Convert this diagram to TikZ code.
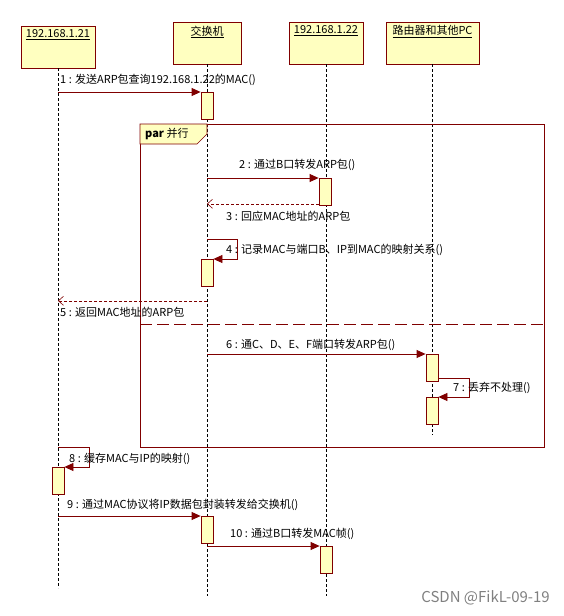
\documentclass[tikz,border=0pt]{standalone}
\usepackage{fontspec}
\setmainfont{Noto Sans CJK SC}
\usepackage{xcolor}
\usetikzlibrary{arrows.meta,positioning}

\definecolor{dred}{HTML}{800000}
\definecolor{yfill}{HTML}{FFFFC0}

\tikzset{
  head/.style={draw=dred, fill=yfill, line width=1pt, minimum height=42, inner sep=0},
  headtxt/.style={anchor=north, inner sep=0, yshift=-4},
  act/.style={draw=dred, fill=yfill, line width=0.8pt, minimum width=12, minimum height=27, anchor=north, inner sep=0},
  life/.style={dash pattern=on 3pt off 2pt, line width=0.7pt},
  msg/.style={dred, line width=0.8pt, -{Triangle[length=9pt,width=8pt]}},
  ret/.style={dred, line width=0.6pt, dash pattern=on 3pt off 2pt, -{Straight Barb[length=5pt,width=9pt]}},
  lbl/.style={anchor=west, inner sep=0}
}

\begin{document}
\begin{tikzpicture}[x=1pt, y=-1pt, font=\fontsize{11}{13}\selectfont]
\useasboundingbox (0,0) rectangle (564,616);

% Heads
\node[head, minimum width=74] (h1) at (58,47) {};
\node[headtxt] at (h1.north) {\underline{192.168.1.21}};
\node[head, minimum width=68] (h2) at (207,43) {};
\node[headtxt] at (h2.north) {\underline{交换机}};
\node[head, minimum width=74] (h3) at (326,43) {};
\node[headtxt] at (h3.north) {\underline{192.168.1.22}};
\node[head, minimum width=93] (h4) at (432.5,43) {};
\node[headtxt] at (h4.north) {\underline{路由器和其他PC}};

% Lifelines
\coordinate (l1) at (58,68);
\coordinate (l2) at (207,64);
\coordinate (l3) at (326,64);
\coordinate (l4) at (432,64);
\draw[life] (l1) -- (58,588);
\draw[life] (l2) -- (207,596);
\draw[life] (l3) -- (326,596);
\draw[life] (l4) -- (432,435);

% par frame
\draw[dred, line width=0.8pt] (140,124) rectangle (544,447);
\draw[dred, fill=yfill, line width=0.6pt] (140,124) -- (207,124) -- (207,134) -- (197,144) -- (140,144) -- cycle;
\node[lbl] (par) at (145,134) {\textbf{par} 并行};
\draw[dred, line width=0.8pt, dash pattern=on 12pt off 5pt] (140,324) -- (544,324);

% Activations
\node[act] (a1) at (207,92) {};
\node[act] (a2) at (325,178) {};
\node[act] (a3) at (207,259) {};
\node[act] (a4) at (432,354) {};
\node[act] (a5) at (432,397) {};
\node[act] (a6) at (58,467) {};
\node[act] (a7) at (207,516) {};
\node[act] (a8) at (326,546) {};

% Messages
\draw[msg] (a1.north west -| l1) -- (a1.north west);
\node[lbl] at (60,80) {1 : 发送ARP包查询192.168.1.22的MAC()};

\draw[msg] (a2.north west -| l2) -- (a2.north west);
\node[lbl] at (239,165) {2 : 通过B口转发ARP包()};

\draw[ret] ([yshift=2]a2.south west) -- ([yshift=2]a2.south west -| l2);
\node[lbl] at (226,216) {3 : 回应MAC地址的ARP包};

\draw[msg] ([yshift=20]a3.north) -- ++(30,0) |- (a3.north east);
\node[lbl] at (226,250) {4 : 记录MAC与端口B、IP到MAC的映射关系()};

\draw[ret] ([yshift=-14]a3.south) -- ([yshift=-14]a3.south -| l1);
\node[lbl] at (60,312) {5 : 返回MAC地址的ARP包};

\draw[msg] (a4.north west -| l2) -- (a4.north west);
\node[lbl] at (226,345) {6 : 通C、D、E、F端口转发ARP包()};

\draw[msg] ([yshift=3]a4.south east) -- ++(31,0) |- (a5.north east);
\node[lbl] at (453,388) {7 : 丢弃不处理()};

\draw[msg] ([yshift=20]a6.north) -- ++(31,0) |- (a6.north east);
\node[lbl] at (69,459) {8 : 缓存MAC与IP的映射()};

\draw[msg] (a7.north west -| l1) -- (a7.north west);
\node[lbl] at (67,505) {9 : 通过MAC协议将IP数据包封装转发给交换机()};

\draw[msg] (a8.north west -| l2) -- (a8.north west);
\node[lbl] at (230,534) {10 : 通过B口转发MAC帧()};

% Watermark
\node[anchor=east, inner sep=0, gray, font=\fontsize{15}{17}\selectfont] (wm) at (550,598) {CSDN @FikL-09-19};
\end{tikzpicture}
\end{document}
